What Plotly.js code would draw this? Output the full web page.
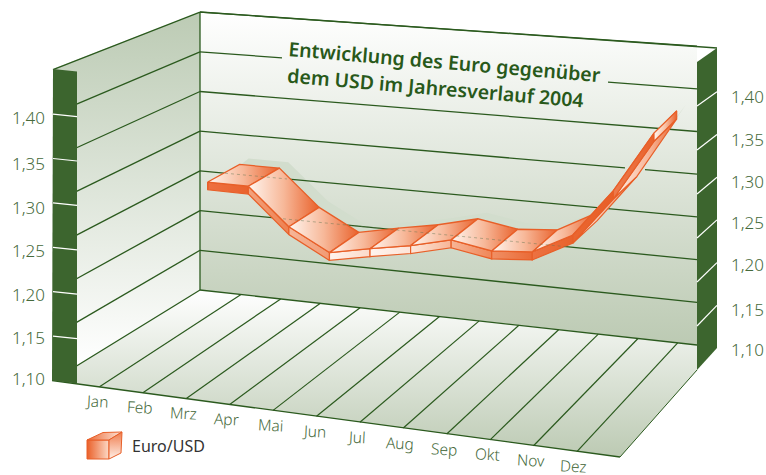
<!DOCTYPE html>
<html><head><meta charset="utf-8">
<script src="https://cdn.plot.ly/plotly-3.0.1.min.js"></script>
<style>html,body{margin:0;padding:0;background:#fff}#c{width:766px;height:475px}</style>
</head><body><div id="c"></div>
<script>
// ---- data ----
const months = ['Jan','Feb','Mrz','Apr','Mai','Jun','Jul','Aug','Sep','Okt','Nov','Dez'];
const euroUsd = [1.264,1.264,1.220,1.194,1.204,1.213,1.225,1.217,1.221,1.246,1.303,1.375];
const valueTicks = [1.10,1.15,1.20,1.25,1.30,1.35,1.40];
const valueTop = 1.45;
const seriesName = 'Euro/USD';
const titleLines = ['Entwicklung des Euro gegenüber','dem USD im Jahresverlauf 2004'];

// ---- oblique chart box: maps (month, value, depth) onto the flat plot ----
const box = {
  frontX:i=>99.5+43.4*i, backX:i=>241+39.7*i,
  frontFloor:x=>380.5+0.1358*(x-53), backFloor:x=>290+0.1107*(x-200),
  unitBack:i=>(39.9+0.223*i)/0.05, unitFront:44.2/0.05
};
function project(i,v,d){
  const xf=box.frontX(i), xb=box.backX(i);
  const yf=box.frontFloor(xf), yb=box.backFloor(xb);
  const unit=box.unitFront*(1-d)+box.unitBack(i)*d;
  return [xf+(xb-xf)*d, yf+(yb-yf)*d-(v-1.10)*unit];
}
const backY=(v,x)=>{const k=(v-1.10)/0.05;const t=(x-200)/497;return (290-39.7*k)*(1-t)+(345-42.7*k)*t;};
const leftY=v=>380.5-44.4*(v-1.10)/0.05;
const rightFrontY=v=>370-44*(v-1.10)/0.05;
const rightBackY=v=>348-42.7*(v-1.10)/0.05;

const DARK='#2b5a1e', PILLAR='#3c652e', TICK='#466a3b', ORANGE='#e85f28';
const traces=[];
function poly(pts,opt){
  opt=opt||{};
  const t={type:'scatter',mode:'lines',x:pts.map(p=>p[0]).concat([pts[0][0]]),y:pts.map(p=>p[1]).concat([pts[0][1]]),
    fill:'toself',hoverinfo:'skip',line:{width:opt.lw===undefined?0:opt.lw,color:opt.lc||'rgba(0,0,0,0)'}};
  if(opt.fill) t.fillcolor=opt.fill;
  if(opt.grad) t.fillgradient=opt.grad;
  traces.push(t);
}
function line(pts,color,w,dash){
  traces.push({type:'scatter',mode:'lines',x:pts.map(p=>p[0]),y:pts.map(p=>p[1]),hoverinfo:'skip',
    line:{color:color,width:w,dash:dash||'solid'}});
}
const vgrad=(a,b,c0,c1)=>({type:'vertical',start:a,stop:b,colorscale:[[0,c0],[1,c1]]});
const hgrad=(pts,stops)=>{const xs=pts.map(p=>p[0]);return {type:'horizontal',start:Math.min(...xs),stop:Math.max(...xs),colorscale:stops};};

// walls and floor
poly([[53,69],[200,12],[200,290],[53,380.5]],{grad:vgrad(12,365,'#bccbb4','#ffffff')});
poly([[200,12],[697,46.5],[697,345],[200,290]],{grad:vgrad(12,345,'#ffffff','#bccab3')});
poly([[200,290],[697,345],[697,370],[620,457],[52,380.5]],{grad:vgrad(290,457,'#ffffff','#bccab3')});

// shadow of the ribbon on the back wall
const D0=0.765,D1=0.99,THICK=0.0095;
const shX=9,shY=-6;
{
  const up=months.map((m,i)=>project(i,euroUsd[i],D1));
  const lo=months.map((m,i)=>project(i,euroUsd[i]-THICK,D0)).reverse();
  poly(up.concat(lo).map(p=>[p[0]+shX,p[1]+shY]),{fill:'#d2ddcd'});
}

// grid on the back wall, with the gap behind the title
const gridLevels=valueTicks.concat([valueTop]);
const gaps={'1.40':[282,608],'1.30':[625,645]};
gridLevels.forEach(v=>{
  const g=gaps[v.toFixed(2)];
  if(g){
    line([[200,backY(v,200)],[g[0],backY(v,g[0])]],DARK,1.3);
    line([[g[1],backY(v,g[1])],[697,backY(v,697)]],DARK,1.3);
  } else line([[200,backY(v,200)],[697,backY(v,697)]],DARK,1.3);
  // grid on the left wall
  line([[53,leftY(v)],[200,backY(v,200)]],DARK,1.3);
});
line([[200,12],[200,290]],DARK,1.3);
line([[200,12],[717,48]],DARK,1.3);

// floor lines
months.forEach((m,i)=>{
  const xf=box.frontX(i),xb=box.backX(i);
  line([[xf,box.frontFloor(xf)],[xb,box.backFloor(xb)]],DARK,1.2);
});
line([[620,457],[697,370]],DARK,1);
line([[52,380.5],[620,457]],DARK,1.3);

// pillars
poly([[53,69],[77,71.5],[77,383.5],[52,380.5]],{fill:PILLAR});
poly([[697,62],[717,48],[717,348],[697,370]],{fill:PILLAR});
valueTicks.forEach(v=>{
  if(v>1.10){
    line([[53,leftY(v)],[77,leftY(v)+2.5]],'#ffffff',1.2);
    line([[697,rightFrontY(v)],[717,rightBackY(v)]],'#ffffff',1.2);
  }
});

// ribbon
const faceColors=[
 ['#ee7040','#e9622d'],['#f3a27d','#ee8050'],['#f6b698','#f19a73'],
 ['#fff4ee','#fbd9c8'],['#fff4ee','#fde4d8'],['#fde8dc','#f7b596'],
 ['#f7b596','#ef8658'],['#f09065','#ea6a36'],['#ec7242','#e8622c'],
 ['#ea6630','#e85f28'],['#ee7a4c','#e8622c']];
const topStops=[[0,'#fff6f0'],[0.5,'#f7b899'],[1,'#e9622c']];
const botStops=[[0,'#fff0e8'],[0.6,'#f6b192'],[1,'#e8622c']];
euroUsd.slice(0,-1).forEach((v,i)=>{
  const w=euroUsd[i+1];
  const F0=project(i,v,D0),F1=project(i+1,w,D0),B0=project(i,v,D1),B1=project(i+1,w,D1);
  const f0=project(i,v-THICK,D0),f1=project(i+1,w-THICK,D0),b0=project(i,v-THICK,D1),b1=project(i+1,w-THICK,D1);
  const top=[F0,B0,B1,F1], bot=[f0,b0,b1,f1], face=[F0,F1,f1,f0];
  const cross=(F1[0]-F0[0])*(B0[1]-F0[1])-(F1[1]-F0[1])*(B0[0]-F0[0]);
  const seen=cross<0;
  const faceOpt={grad:hgrad(face,[[0,faceColors[i][0]],[1,faceColors[i][1]]]),lc:ORANGE,lw:1.2};
  if(seen){
    poly(face,faceOpt);
    poly(top,{grad:hgrad(top,topStops),lc:ORANGE,lw:1.3});
  } else {
    poly(top,{grad:hgrad(top,topStops),lc:ORANGE,lw:1.3});
    poly(bot,{grad:hgrad(bot,botStops),lc:ORANGE,lw:1.2});
    poly(face,faceOpt);
  }
});
{ // end cap, light at its left edge
  const n=euroUsd.length-1,v=euroUsd[n];
  const cap=[project(n,v,D0),project(n,v,D1),project(n,v-THICK,D1),project(n,v-THICK,D0)];
  poly(cap,{grad:hgrad(cap,[[0,'#fff6f0'],[0.5,'#f8c0a4'],[1,'#e9622c']]),lc:ORANGE,lw:1.2});
  const u=euroUsd[0];
  poly([project(0,u,D0),project(0,u-THICK,D0)],{lc:ORANGE,lw:1.2});
}
// grid lines glimpsed through the ribbon
line([[225,backY(1.25,225)],[287,backY(1.25,287)]],'rgba(95,115,80,0.45)',1,'dot');
line([[283,backY(1.20,283)],[570,backY(1.20,570)]],'rgba(95,115,80,0.45)',1,'dot');

// legend cube
poly([[87,440],[109,440],[109,459],[87,459]],{grad:{type:'horizontal',start:87,stop:109,colorscale:[[0,'#ea6029'],[1,'#fcd9c6']]},lc:ORANGE,lw:1});
poly([[87,440],[103,432.5],[122,432],[109,440]],{grad:{type:'horizontal',start:87,stop:122,colorscale:[[0,'#ec6a36'],[1,'#fde6da']]},lc:ORANGE,lw:1});
poly([[109,440],[122,432],[121,453],[109,459]],{grad:{type:'vertical',start:432,stop:459,colorscale:[[0,'#ef7c4d'],[1,'#fff0e8']]},lc:ORANGE,lw:1});

// text
const ann=[];
const FAM='"Noto Sans",sans-serif';
function txt(x,y,s,size,color,angle,extra,weight){
  ann.push(Object.assign({x:x,y:y,xref:'x',yref:'y',text:s,showarrow:false,textangle:angle||0,
    font:{family:FAM,size:size,color:color,weight:weight||300},xanchor:'center',yanchor:'middle'},extra||{}));
}
const fmt=v=>v.toFixed(2).replace('.',',');
const leftLabelY=[378,337,294,250,207,163,117];
const rightLabelY=[349,309,264,222,181,139,96];
valueTicks.forEach((v,k)=>{
  txt(46.5,leftLabelY[k],fmt(v),17,TICK,0,{xanchor:'right'});
  txt(728.5,rightLabelY[k],fmt(v),17,TICK,0,{xanchor:'left'});
});
months.forEach((m,i)=>{
  const x=box.frontX(i)-3;
  txt(x,box.frontFloor(x)+15,m,15.5,TICK,3);
});
txt(130,446,seriesName,16,'#333333',0,{xanchor:'left'},400);
txt(444,61,titleLines[0],19.5,'#28591a',4.8,{},600);
txt(435,87,titleLines[1],19.5,'#28591a',4.8,{},600);

Plotly.newPlot('c',traces,{
  width:766,height:475,margin:{l:0,r:0,t:0,b:0},showlegend:false,
  paper_bgcolor:'#ffffff',plot_bgcolor:'#ffffff',
  xaxis:{range:[0,766],visible:false,fixedrange:true},
  yaxis:{range:[475,0],visible:false,fixedrange:true},
  annotations:ann
},{staticPlot:true,displayModeBar:false});
</script></body></html>
